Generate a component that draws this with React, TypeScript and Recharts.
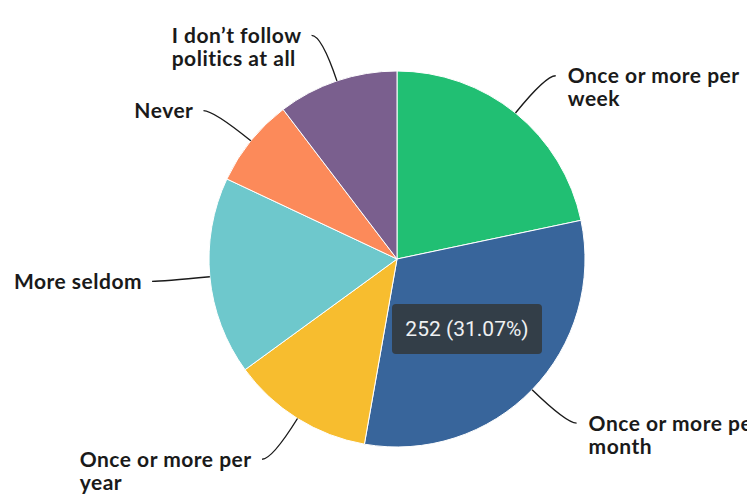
import { PieChart, Pie, Cell, Tooltip } from 'recharts';

// ============================================================================
// Data
// ============================================================================

const categories = [
  'Once or more per week',
  'Once or more per month',
  'Once or more per year',
  'More seldom',
  'Never',
  'I don’t follow politics at all',
];
const responses = [176, 252, 99, 138, 62, 84];
const sliceColors = ['#21bf73', '#38659b', '#f7bd2f', '#6ec8cc', '#fc8a5a', '#7a5f8e'];

const total = responses.reduce((a, b) => a + b, 0);
const chartData = categories.map((name, i) => ({ name, value: responses[i] }));

const RAD = Math.PI / 180;
const LABEL_FONT = '700 21px Lato, sans-serif';
const LETTER_SPACING = 0.5;

function wrapWords(text: string, maxChars = 16) {
  const lines: string[] = [];
  let current = '';
  text.split(' ').forEach((w) => {
    const next = current ? `${current} ${w}` : w;
    if (next.length > maxChars && current) {
      lines.push(current);
      current = w;
    } else {
      current = next;
    }
  });
  if (current) lines.push(current);
  return lines;
}

let ctx: CanvasRenderingContext2D | null = null;
function textWidth(s: string) {
  if (!ctx) ctx = document.createElement('canvas').getContext('2d');
  if (!ctx) return s.length * 10;
  ctx.font = LABEL_FONT;
  return ctx.measureText(s).width + LETTER_SPACING * s.length;
}

// leader line + wrapped label, drawn outside the slice
function renderLabel(props: any) {
  const { cx, cy, midAngle, outerRadius, index } = props;
  const cos = Math.cos(-midAngle * RAD);
  const sin = Math.sin(-midAngle * RAD);
  const right = cos >= 0;
  const sx = cx + outerRadius * cos;
  const sy = cy + outerRadius * sin;
  const ex = cx + (outerRadius + 48) * cos;
  const ey = cy + (outerRadius + 48) * sin;
  const hx = ex + (right ? 10 : -10);
  const lines = wrapWords(categories[index]);
  const blockW = Math.max(...lines.map(textWidth));
  // text blocks are left-aligned; on the left side the block ends near the line
  const tx = right ? hx + 12 : hx - 10 - blockW;

  return (
    <g key={`lbl-${index}`}>
      <path
        d={`M${sx},${sy} Q${ex},${ey} ${hx},${ey}`}
        stroke="#1a1a1a"
        strokeWidth={1.4}
        fill="none"
      />
      <text
        x={tx}
        y={ey + 7.5}
        textAnchor="start"
        fill="#1a1a1a"
        style={{
          fontFamily: 'Lato, sans-serif',
          fontWeight: 700,
          fontSize: 21,
          letterSpacing: LETTER_SPACING,
        }}
      >
        {lines.map((ln, i) => (
          <tspan key={i} x={tx} dy={i === 0 ? 0 : 23}>
            {ln}
          </tspan>
        ))}
      </text>
    </g>
  );
}

function TipBox({ payload }: any) {
  if (!payload || !payload.length) return null;
  const v = payload[0].value as number;
  return (
    <div
      style={{
        background: '#333e48',
        color: '#eef0f2',
        borderRadius: 4,
        height: 50,
        width: 150,
        boxSizing: 'border-box',
        display: 'flex',
        alignItems: 'center',
        justifyContent: 'center',
        fontFamily: 'Roboto, sans-serif',
        fontSize: 21,
      }}
    >
      {v} ({((v / total) * 100).toFixed(2)}%)
    </div>
  );
}

export default function App() {
  return (
    <div style={{ position: 'absolute', left: 0, top: 0, width: 747, height: 499, background: '#fff' }}>
      <PieChart width={747} height={499} margin={{ top: 0, right: 0, bottom: 0, left: 0 }}>
        <Pie
          data={chartData}
          dataKey="value"
          nameKey="name"
          cx={397}
          cy={259}
          outerRadius={188}
          startAngle={90}
          endAngle={-270}
          stroke="#ffffff"
          strokeWidth={1}
          label={renderLabel}
          labelLine={false}
          isAnimationActive={false}
        >
          {chartData.map((_, i) => (
            <Cell key={`cell-${i}`} fill={sliceColors[i]} />
          ))}
        </Pie>
        <Tooltip
          active
          defaultIndex={1}
          position={{ x: 392, y: 304 }}
          content={<TipBox />}
          isAnimationActive={false}
          wrapperStyle={{ outline: 'none' }}
        />
      </PieChart>
    </div>
  );
}
